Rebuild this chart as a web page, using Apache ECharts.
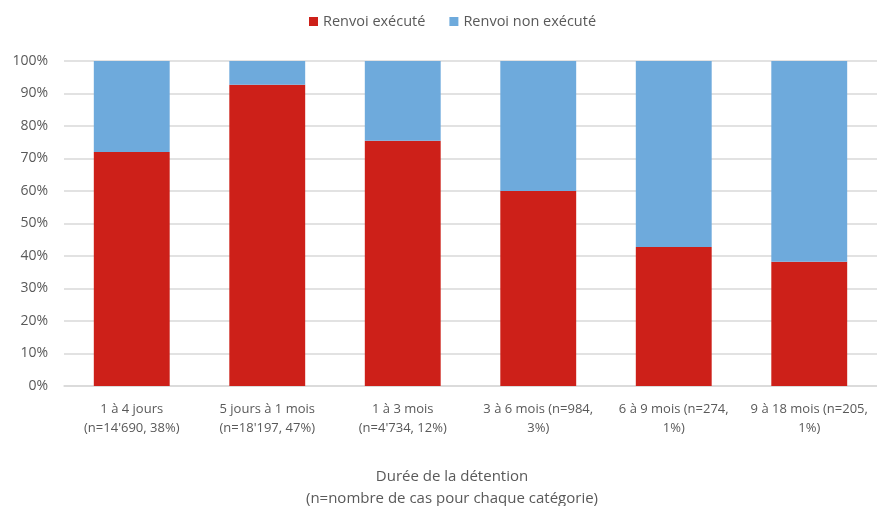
<!DOCTYPE html>
<html><head><meta charset="utf-8">
<script src="https://cdn.jsdelivr.net/npm/echarts@6/dist/echarts.min.js"></script>
<style>html,body{margin:0;padding:0;background:#fff}#c{width:877px;height:506px}</style>
</head><body><div id="c"></div>
<script>
const categories = ["1 à 4 jours\n(n=14'690, 38%)", "5 jours à 1 mois\n(n=18'197, 47%)", "1 à 3 mois\n(n=4'734, 12%)", "3 à 6 mois (n=984,\n3%)", "6 à 9 mois (n=274,\n1%)", "9 à 18 mois (n=205,\n1%)"];
const executed = [72.0, 92.7, 75.5, 60.0, 42.8, 38.2];
const notExecuted = [28.0, 7.3, 24.5, 40.0, 57.2, 61.8];
const seriesNames = ["Renvoi exécuté", "Renvoi non exécuté"];
const axisTitle = "Durée de la détention\n(n=nombre de cas pour chaque catégorie)";
const FONT = "Open Sans";
const chart = echarts.init(document.getElementById('c'));
chart.setOption({
  animation:false,
  textStyle:{fontFamily:FONT},
  legend:{top:9,left:304,itemWidth:9,itemHeight:9,itemGap:24,icon:'rect',
    textStyle:{fontFamily:FONT,fontSize:14.5,color:'#595959'},data:seriesNames},
  grid:{left:64,right:0,top:61,bottom:120,containLabel:false},
  xAxis:{type:'category',data:categories,
    axisLine:{lineStyle:{color:'#D9D9D9',width:1.5}},axisTick:{show:false},
    axisLabel:{fontFamily:FONT,fontSize:13,color:'#595959',lineHeight:19,margin:14,interval:0}},
  yAxis:{type:'value',min:0,max:100,interval:10,
    axisLabel:{formatter:'{value}%',fontFamily:FONT,fontSize:14,color:'#595959',margin:16},
    splitLine:{lineStyle:{color:'#D9D9D9',width:1.5}},axisLine:{show:false},axisTick:{show:false}},
  graphic:[{type:'text',x:452,y:466,style:{text:axisTitle,fontFamily:FONT,fontSize:15,fill:'#595959',align:'center',lineHeight:22}}],
  series:[
    {name:seriesNames[0],type:'bar',stack:'s',data:executed,barCategoryGap:'44%',itemStyle:{color:'#CD2019'}},
    {name:seriesNames[1],type:'bar',stack:'s',data:notExecuted,barCategoryGap:'44%',itemStyle:{color:'#6EAADC'}}
  ]
});
</script></body></html>
